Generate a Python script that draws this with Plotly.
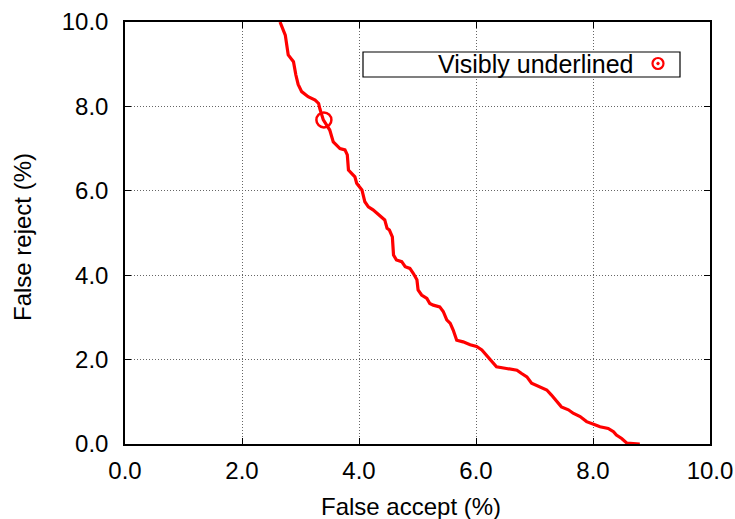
import plotly.graph_objects as go

false_accept = [2.65, 2.74, 2.79, 2.84, 2.88, 2.92, 2.96, 3.02, 3.13, 3.25, 3.31, 3.33, 3.39, 3.45, 3.50,
                3.56, 3.675, 3.76, 3.80, 3.82, 3.875, 3.93, 3.96, 4.05, 4.10, 4.16, 4.24, 4.33, 4.44,
                4.48, 4.52, 4.57, 4.59, 4.64, 4.73, 4.79, 4.87, 4.93, 4.99, 5.01, 5.07, 5.16, 5.21,
                5.27, 5.38, 5.44, 5.50, 5.56, 5.61, 5.67, 5.78, 5.90, 6.01, 6.10, 6.18, 6.27, 6.35,
                6.52, 6.70, 6.78, 6.87, 6.95, 7.09, 7.21, 7.29, 7.38, 7.46, 7.58, 7.66, 7.78, 7.89,
                8.01, 8.12, 8.26, 8.35, 8.40, 8.49, 8.58, 8.80]
false_reject = [10.0, 9.69, 9.22, 9.14, 9.06, 8.75, 8.52, 8.35, 8.23, 8.15, 8.07, 7.95, 7.68, 7.55, 7.44,
                7.16, 7.0, 6.97, 6.85, 6.49, 6.41, 6.33, 6.18, 6.02, 5.74, 5.62, 5.55, 5.43, 5.31,
                5.11, 5.07, 4.91, 4.48, 4.36, 4.32, 4.20, 4.16, 4.04, 3.89, 3.65, 3.53, 3.45, 3.33,
                3.29, 3.25, 3.14, 2.94, 2.86, 2.70, 2.46, 2.42, 2.35, 2.31, 2.23, 2.11, 1.95, 1.83,
                1.79, 1.75, 1.67, 1.59, 1.44, 1.36, 1.28, 1.16, 1.00, 0.88, 0.81, 0.73, 0.65, 0.53,
                0.47, 0.41, 0.37, 0.29, 0.21, 0.13, 0.02, 0.0]
point_fa = [3.40]
point_fr = [7.68]
legend_label = "Visibly underlined"
x_title = "False accept (%)"
y_title = "False reject (%)"
tick_vals = [0, 2, 4, 6, 8, 10]
tick_text = ["0.0", "2.0", "4.0", "6.0", "8.0", "10.0"]

FONT = "Liberation Sans, Arial, Helvetica, sans-serif"
RED = "#ff0000"
L, R, T, B = 125, 710, 22, 444
PW, PH = R - L, B - T


def px(xp):
    return (xp - L) / PW


def py(yp):
    return (B - yp) / PH


fig = go.Figure()
fig.add_trace(go.Scatter(x=false_accept, y=false_reject, mode="lines",
                         line=dict(color=RED, width=3.2), showlegend=False, hoverinfo="skip"))
fig.add_trace(go.Scatter(x=point_fa, y=point_fr, mode="markers",
                         marker=dict(symbol="circle-open", size=15, color=RED,
                                     line=dict(width=2.5, color=RED)),
                         showlegend=False))

axis_common = dict(
    showgrid=True, gridcolor="#666666", griddash="1px,2px", gridwidth=1,
    showline=True, linecolor="black", linewidth=1.5, mirror="ticks",
    ticks="inside", ticklen=6, tickcolor="black", tickwidth=1,
    tickvals=tick_vals, ticktext=tick_text, zeroline=False,
    tickfont=dict(family=FONT, size=24, color="black"),
)
fig.update_xaxes(range=[0, 10], ticklabelstandoff=4, **axis_common)
fig.update_yaxes(range=[0, 10], ticklabelstandoff=10, **axis_common)

# axis titles
fig.add_annotation(xref="paper", yref="paper", x=px(411), y=py(507), text=x_title, showarrow=False,
                   xanchor="center", yanchor="middle", font=dict(family=FONT, size=24, color="black"))
fig.add_annotation(xref="paper", yref="paper", x=px(22), y=py(237), text=y_title, showarrow=False,
                   textangle=-90, xanchor="center", yanchor="middle",
                   font=dict(family=FONT, size=24, color="black"))

# legend box (gnuplot style: text then symbol)
fig.add_shape(type="rect", xref="paper", yref="paper", x0=px(363), x1=px(680),
              y0=py(77), y1=py(52), line=dict(color="black", width=1.2),
              fillcolor="white", layer="above")
fig.add_annotation(xref="paper", yref="paper", x=px(636), y=py(64),
                   text=legend_label, showarrow=False, xanchor="right", yanchor="middle",
                   font=dict(family=FONT, size=25, color="black"))
lx, ly = px(658), py(63.5)
fig.add_shape(type="circle", xref="paper", yref="paper", xsizemode="pixel", ysizemode="pixel",
              xanchor=lx, yanchor=ly, x0=-5.5, x1=5.5, y0=-5.5, y1=5.5,
              line=dict(color=RED, width=2.2), layer="above")
fig.add_shape(type="circle", xref="paper", yref="paper", xsizemode="pixel", ysizemode="pixel",
              xanchor=lx, yanchor=ly, x0=-1.3, x1=1.3, y0=-1.3, y1=1.3,
              line=dict(color=RED, width=1), fillcolor=RED, layer="above")

fig.update_layout(
    width=735, height=519,
    margin=dict(l=L, r=735 - R, t=T, b=519 - B, autoexpand=False),
    plot_bgcolor="white", paper_bgcolor="white",
    font=dict(family=FONT, color="black"),
)
fig.write_html("out.html")
